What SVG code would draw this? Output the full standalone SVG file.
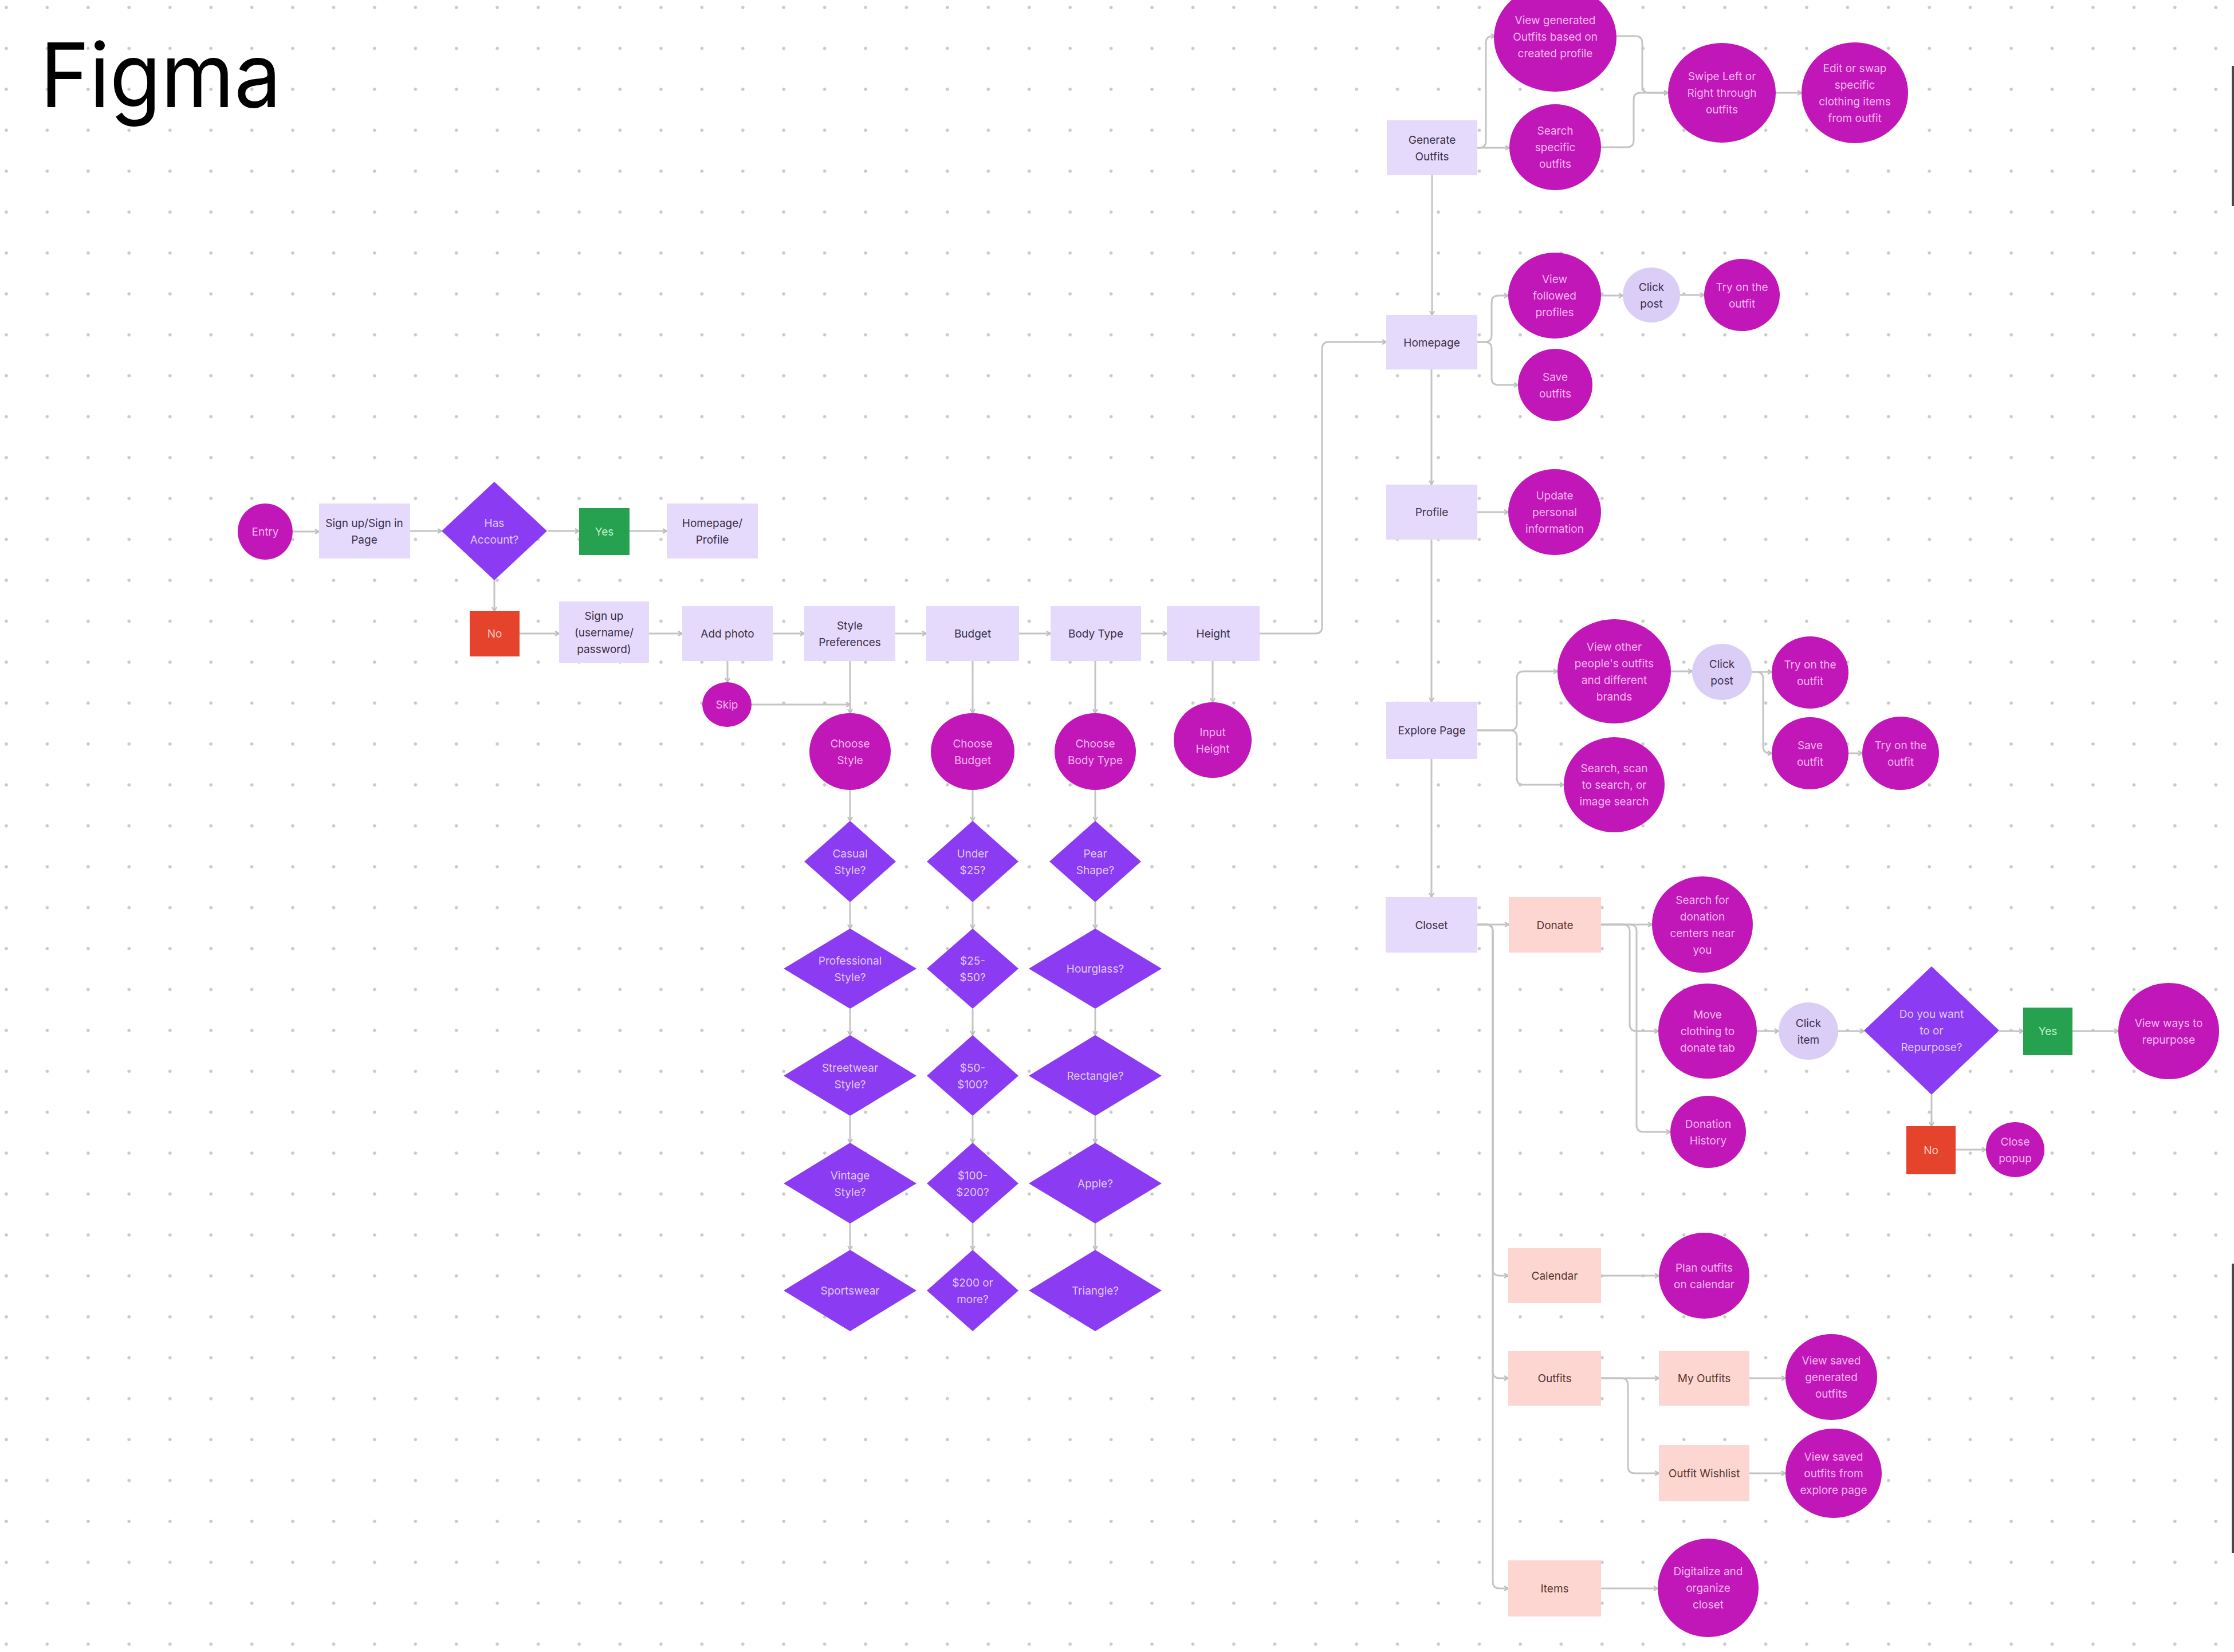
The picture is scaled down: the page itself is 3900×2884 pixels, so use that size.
<svg xmlns="http://www.w3.org/2000/svg" width="3900" height="2884" viewBox="0 0 3900 2884">
<defs>
<pattern id="dots" patternUnits="userSpaceOnUse" x="-24.7" y="-22.7" width="71.43" height="71.43">
<circle cx="35.7" cy="35.7" r="2.8" fill="#c9c9c9"/>
</pattern>
<marker id="arr" markerUnits="userSpaceOnUse" markerWidth="14" markerHeight="14" refX="10" refY="6" orient="auto">
<path d="M3,2 L10,6 L3,10" fill="none" stroke="#bdbdbd" stroke-width="2.2"/>
</marker>
<style>
.t{font-family:Inter,"Noto Sans","Liberation Sans",sans-serif;font-size:19px;text-anchor:middle}
.lav{fill:#e5dafb}.lavt{fill:#3a3046}
.pink{fill:#fdd6d1}.pinkt{fill:#553530}
.mag{fill:#c116b8}.magt{fill:#f9b9f2}
.dia{fill:#8b3cf2}.diat{fill:#dfcbff}
.grn{fill:#25a150}.grnt{fill:#bff0c9}
.red{fill:#e5432b}.redt{fill:#ffd0c5}
.clk{fill:#dacdf6}.clkt{fill:#3b2f4d}
#connectors path{fill:none;stroke:#c4c4c4;stroke-width:3;marker-end:url(#arr)}
</style>
</defs>
<rect width="3900" height="2884" fill="#ffffff"/>
<rect width="3900" height="2884" fill="url(#dots)"/>
<text x="70" y="187" font-family="Inter,'Noto Sans',sans-serif" font-size="155" textLength="421" lengthAdjust="spacingAndGlyphs" fill="#000">Figma</text>
<rect x="3896" y="115" width="4" height="245" fill="#474747"/>
<rect x="3896" y="2206" width="4" height="505" fill="#474747"/>

<g id="connectors">
<path d="M512 928 H557"/>
<path d="M716 927 H771"/>
<path d="M956 927 H1011"/>
<path d="M1099 927 H1164"/>
<path d="M863 1013 V1067"/>
<path d="M907 1106 H976"/>
<path d="M1133 1106 H1191"/>
<path d="M1349 1106 H1404"/>
<path d="M1563 1106 H1617"/>
<path d="M1779 1106 H1834"/>
<path d="M1992 1106 H2037"/>
<path d="M1270 1154 V1191"/>
<path d="M1312 1230 H1484"/>
<path d="M1484 1154 V1245"/>
<path d="M1698 1154 V1245"/>
<path d="M1912 1154 V1245"/>
<path d="M2117 1154 V1226"/>
<path d="M1484 1379 V1433"/><path d="M1484 1575 V1621"/><path d="M1484 1761 V1807"/><path d="M1484 1948 V1995"/><path d="M1484 2136 V2182"/>
<path d="M1698 1379 V1433"/><path d="M1698 1575 V1621"/><path d="M1698 1761 V1807"/><path d="M1698 1948 V1995"/><path d="M1698 2136 V2182"/>
<path d="M1912 1379 V1433"/><path d="M1912 1575 V1621"/><path d="M1912 1761 V1807"/><path d="M1912 1948 V1995"/><path d="M1912 2136 V2182"/>
<path d="M2199 1106 H2296 Q2308 1106 2308 1094 V609 Q2308 597 2320 597 H2420"/>
<path d="M2579 258 H2582 Q2594 258 2594 246 V75 Q2594 63 2606 63 H2610"/>
<path d="M2579 258 H2635"/>
<path d="M2822 63 H2855 Q2867 63 2867 75 V150 Q2867 162 2879 162 H2912"/>
<path d="M2795 257 H2840 Q2852 257 2852 245 V174 Q2852 162 2864 162 H2912"/>
<path d="M3100 162 H3145"/>
<path d="M2500 306 V550"/>
<path d="M2579 597 H2592 Q2604 597 2604 585 V528 Q2604 516 2616 516 H2633"/>
<path d="M2579 597 H2592 Q2604 597 2604 609 V660 Q2604 672 2616 672 H2650"/>
<path d="M2795 516 H2833"/>
<path d="M2933 515 H2975"/>
<path d="M2499 645 V846"/>
<path d="M2579 894 H2633"/>
<path d="M2499 942 V1225"/>
<path d="M2579 1275 H2636 Q2648 1275 2648 1263 V1184 Q2648 1172 2660 1172 H2719"/>
<path d="M2579 1275 H2636 Q2648 1275 2648 1287 V1358 Q2648 1370 2660 1370 H2730"/>
<path d="M2917 1172 H2954"/>
<path d="M3058 1173 H3093"/>
<path d="M3058 1173 H3066 Q3078 1173 3078 1185 V1303 Q3078 1315 3090 1315 H3093"/>
<path d="M3227 1315 H3251"/>
<path d="M2499 1325 V1566"/>
<path d="M2579 1614 H2634"/>
<path d="M2579 1614 H2594 Q2606 1614 2606 1626 V2215 Q2606 2227 2618 2227 H2633"/>
<path d="M2579 1614 H2594 Q2606 1614 2606 1626 V2394 Q2606 2406 2618 2406 H2633"/>
<path d="M2579 1614 H2594 Q2606 1614 2606 1626 V2761 Q2606 2773 2618 2773 H2633"/>
<path d="M2795 1614 H2884"/>
<path d="M2795 1614 H2833 Q2845 1614 2845 1626 V1788 Q2845 1800 2857 1800 H2895"/>
<path d="M2795 1614 H2845 Q2857 1614 2857 1626 V1964 Q2857 1976 2869 1976 H2916"/>
<path d="M3067 1800 H3105"/>
<path d="M3209 1800 H3254"/>
<path d="M3490 1800 H3532"/>
<path d="M3618 1800 H3698"/>
<path d="M3372 1911 V1966"/>
<path d="M3414 2007 H3467"/>
<path d="M2795 2227 H2896"/>
<path d="M2795 2406 H2896"/>
<path d="M2795 2406 H2830 Q2842 2406 2842 2418 V2560 Q2842 2572 2854 2572 H2896"/>
<path d="M3054 2406 H3117"/>
<path d="M3054 2572 H3117"/>
<path d="M2795 2773 H2894"/>
</g>

<g id="n-entry"><ellipse class="mag" cx="463" cy="928" rx="48" ry="49"/><text class="t magt" x="463" y="935">Entry</text></g>
<g id="n-signin"><rect class="lav" x="557" y="879" width="159" height="96"/><text class="t lavt" x="636" y="919.5">Sign up/Sign in<tspan x="636" dy="29">Page</tspan></text></g>
<g id="n-hasaccount"><polygon class="dia" points="863,841 955,927 863,1013 771,927"/><text class="t diat" x="863" y="919.5">Has<tspan x="863" dy="29">Account?</tspan></text></g>
<g id="n-yes1"><rect class="grn" x="1011" y="887" width="88" height="82"/><text class="t grnt" x="1055" y="935">Yes</text></g>
<g id="n-homeprofile"><rect class="lav" x="1164" y="879" width="159" height="96"/><text class="t lavt" x="1243.5" y="919.5">Homepage/<tspan x="1243.5" dy="29">Profile</tspan></text></g>
<g id="n-no1"><rect class="red" x="820" y="1067" width="87" height="79"/><text class="t redt" x="863.5" y="1113">No</text></g>
<g id="n-signup"><rect class="lav" x="976" y="1050" width="157" height="107"/><text class="t lavt" x="1054.5" y="1081.5">Sign up<tspan x="1054.5" dy="29">(username/</tspan><tspan x="1054.5" dy="29">password)</tspan></text></g>
<g id="n-addphoto"><rect class="lav" x="1191" y="1058" width="158" height="96"/><text class="t lavt" x="1270" y="1113">Add photo</text></g>
<g id="n-skip"><ellipse class="mag" cx="1269" cy="1230" rx="43" ry="39"/><text class="t magt" x="1269" y="1237">Skip</text></g>
<g id="n-style"><rect class="lav" x="1404" y="1058" width="159" height="96"/><text class="t lavt" x="1483.5" y="1098.5">Style<tspan x="1483.5" dy="29">Preferences</tspan></text></g>
<g id="n-budget"><rect class="lav" x="1617" y="1058" width="162" height="96"/><text class="t lavt" x="1698" y="1113">Budget</text></g>
<g id="n-bodytype"><rect class="lav" x="1834" y="1058" width="158" height="96"/><text class="t lavt" x="1913" y="1113">Body Type</text></g>
<g id="n-height"><rect class="lav" x="2037" y="1058" width="162" height="96"/><text class="t lavt" x="2118" y="1113">Height</text></g>
<g id="n-choosestyle"><ellipse class="mag" cx="1484" cy="1312" rx="71" ry="67"/><text class="t magt" x="1484" y="1304.5">Choose<tspan x="1484" dy="29">Style</tspan></text></g>
<g id="n-choosebudget"><ellipse class="mag" cx="1698" cy="1312" rx="73" ry="67"/><text class="t magt" x="1698" y="1304.5">Choose<tspan x="1698" dy="29">Budget</tspan></text></g>
<g id="n-choosebody"><ellipse class="mag" cx="1912" cy="1312" rx="71" ry="67"/><text class="t magt" x="1912" y="1304.5">Choose<tspan x="1912" dy="29">Body Type</tspan></text></g>
<g id="n-inputheight"><ellipse class="mag" cx="2117" cy="1292" rx="68" ry="66"/><text class="t magt" x="2117" y="1284.5">Input<tspan x="2117" dy="29">Height</tspan></text></g>

<g id="n-casual"><polygon class="dia" points="1484,1433 1564,1504 1484,1575 1404,1504"/><text class="t diat" x="1484" y="1496.5">Casual<tspan x="1484" dy="29">Style?</tspan></text></g>
<g id="n-professional"><polygon class="dia" points="1484,1621 1600,1691 1484,1761 1368,1691"/><text class="t diat" x="1484" y="1683.5">Professional<tspan x="1484" dy="29">Style?</tspan></text></g>
<g id="n-streetwear"><polygon class="dia" points="1484,1807 1600,1878 1484,1948 1368,1878"/><text class="t diat" x="1484" y="1870.5">Streetwear<tspan x="1484" dy="29">Style?</tspan></text></g>
<g id="n-vintage"><polygon class="dia" points="1484,1995 1600,2066 1484,2136 1368,2066"/><text class="t diat" x="1484" y="2058.5">Vintage<tspan x="1484" dy="29">Style?</tspan></text></g>
<g id="n-sportswear"><polygon class="dia" points="1484,2182 1600,2253 1484,2324 1368,2253"/><text class="t diat" x="1484" y="2260">Sportswear</text></g>

<g id="n-under25"><polygon class="dia" points="1698,1433 1778,1504 1698,1575 1618,1504"/><text class="t diat" x="1698" y="1496.5">Under<tspan x="1698" dy="29">$25?</tspan></text></g>
<g id="n-25to50"><polygon class="dia" points="1698,1621 1778,1691 1698,1761 1618,1691"/><text class="t diat" x="1698" y="1683.5">$25-<tspan x="1698" dy="29">$50?</tspan></text></g>
<g id="n-50to100"><polygon class="dia" points="1698,1807 1778,1878 1698,1948 1618,1878"/><text class="t diat" x="1698" y="1870.5">$50-<tspan x="1698" dy="29">$100?</tspan></text></g>
<g id="n-100to200"><polygon class="dia" points="1698,1995 1778,2066 1698,2136 1618,2066"/><text class="t diat" x="1698" y="2058.5">$100-<tspan x="1698" dy="29">$200?</tspan></text></g>
<g id="n-200more"><polygon class="dia" points="1698,2182 1778,2253 1698,2324 1618,2253"/><text class="t diat" x="1698" y="2245.5">$200 or<tspan x="1698" dy="29">more?</tspan></text></g>

<g id="n-pear"><polygon class="dia" points="1912,1433 1992,1504 1912,1575 1832,1504"/><text class="t diat" x="1912" y="1496.5">Pear<tspan x="1912" dy="29">Shape?</tspan></text></g>
<g id="n-hourglass"><polygon class="dia" points="1912,1621 2028,1691 1912,1761 1796,1691"/><text class="t diat" x="1912" y="1698">Hourglass?</text></g>
<g id="n-rectangle"><polygon class="dia" points="1912,1807 2028,1878 1912,1948 1796,1878"/><text class="t diat" x="1912" y="1885">Rectangle?</text></g>
<g id="n-apple"><polygon class="dia" points="1912,1995 2028,2066 1912,2136 1796,2066"/><text class="t diat" x="1912" y="2073">Apple?</text></g>
<g id="n-triangle"><polygon class="dia" points="1912,2182 2028,2253 1912,2324 1796,2253"/><text class="t diat" x="1912" y="2260">Triangle?</text></g>

<g id="n-genoutfits"><rect class="lav" x="2421" y="210" width="158" height="96"/><text class="t lavt" x="2500" y="250.5">Generate<tspan x="2500" dy="29">Outfits</tspan></text></g>
<g id="n-viewgenerated"><ellipse class="mag" cx="2715" cy="66" rx="107" ry="94"/><text class="t magt" x="2715" y="42">View generated<tspan x="2715" dy="29">Outfits based on</tspan><tspan x="2715" dy="29">created profile</tspan></text></g>
<g id="n-searchspecific"><ellipse class="mag" cx="2715" cy="257" rx="80" ry="75"/><text class="t magt" x="2715" y="235">Search<tspan x="2715" dy="29">specific</tspan><tspan x="2715" dy="29">outfits</tspan></text></g>
<g id="n-swipe"><ellipse class="mag" cx="3006" cy="162" rx="94" ry="87"/><text class="t magt" x="3006" y="140">Swipe Left or<tspan x="3006" dy="29">Right through</tspan><tspan x="3006" dy="29">outfits</tspan></text></g>
<g id="n-editswap"><ellipse class="mag" cx="3238" cy="162" rx="93" ry="88"/><text class="t magt" x="3238" y="125.5">Edit or swap<tspan x="3238" dy="29">specific</tspan><tspan x="3238" dy="29">clothing items</tspan><tspan x="3238" dy="29">from outfit</tspan></text></g>

<g id="n-homepage"><rect class="lav" x="2420" y="550" width="159" height="95"/><text class="t lavt" x="2499.5" y="604.5">Homepage</text></g>
<g id="n-viewfollowed"><ellipse class="mag" cx="2714" cy="516" rx="81" ry="75"/><text class="t magt" x="2714" y="494">View<tspan x="2714" dy="29">followed</tspan><tspan x="2714" dy="29">profiles</tspan></text></g>
<g id="n-saveoutfits"><ellipse class="mag" cx="2715" cy="672" rx="65" ry="63"/><text class="t magt" x="2715" y="664.5">Save<tspan x="2715" dy="29">outfits</tspan></text></g>
<g id="n-clickpost1"><ellipse class="clk" cx="2883" cy="515" rx="50" ry="48"/><text class="t clkt" x="2883" y="507.5">Click<tspan x="2883" dy="29">post</tspan></text></g>
<g id="n-tryon1"><ellipse class="mag" cx="3041" cy="515" rx="66" ry="63"/><text class="t magt" x="3041" y="507.5">Try on the<tspan x="3041" dy="29">outfit</tspan></text></g>

<g id="n-profile"><rect class="lav" x="2420" y="846" width="159" height="96"/><text class="t lavt" x="2499.5" y="901">Profile</text></g>
<g id="n-updateinfo"><ellipse class="mag" cx="2714" cy="894" rx="81" ry="75"/><text class="t magt" x="2714" y="872">Update<tspan x="2714" dy="29">personal</tspan><tspan x="2714" dy="29">information</tspan></text></g>

<g id="n-explore"><rect class="lav" x="2420" y="1225" width="159" height="100"/><text class="t lavt" x="2499.5" y="1282">Explore Page</text></g>
<g id="n-viewother"><ellipse class="mag" cx="2818" cy="1172" rx="99" ry="91"/><text class="t magt" x="2818" y="1135.5">View other<tspan x="2818" dy="29">people's outfits</tspan><tspan x="2818" dy="29">and different</tspan><tspan x="2818" dy="29">brands</tspan></text></g>
<g id="n-searchscan"><ellipse class="mag" cx="2818" cy="1370" rx="88" ry="83"/><text class="t magt" x="2818" y="1348">Search, scan<tspan x="2818" dy="29">to search, or</tspan><tspan x="2818" dy="29">image search</tspan></text></g>
<g id="n-clickpost2"><ellipse class="clk" cx="3006" cy="1173" rx="52" ry="49"/><text class="t clkt" x="3006" y="1165.5">Click<tspan x="3006" dy="29">post</tspan></text></g>
<g id="n-tryon2"><ellipse class="mag" cx="3160" cy="1174" rx="67" ry="63"/><text class="t magt" x="3160" y="1166.5">Try on the<tspan x="3160" dy="29">outfit</tspan></text></g>
<g id="n-saveoutfit"><ellipse class="mag" cx="3160" cy="1315" rx="67" ry="63"/><text class="t magt" x="3160" y="1307.5">Save<tspan x="3160" dy="29">outfit</tspan></text></g>
<g id="n-tryon3"><ellipse class="mag" cx="3318" cy="1315" rx="67" ry="64"/><text class="t magt" x="3318" y="1307.5">Try on the<tspan x="3318" dy="29">outfit</tspan></text></g>

<g id="n-closet"><rect class="lav" x="2419" y="1566" width="160" height="97"/><text class="t lavt" x="2499" y="1621.5">Closet</text></g>
<g id="n-donate"><rect class="pink" x="2634" y="1566" width="161" height="97"/><text class="t pinkt" x="2714.5" y="1621.5">Donate</text></g>
<g id="n-searchdonation"><ellipse class="mag" cx="2972" cy="1614" rx="88" ry="84"/><text class="t magt" x="2972" y="1577.5">Search for<tspan x="2972" dy="29">donation</tspan><tspan x="2972" dy="29">centers near</tspan><tspan x="2972" dy="29">you</tspan></text></g>
<g id="n-moveclothing"><ellipse class="mag" cx="2981" cy="1800" rx="86" ry="83"/><text class="t magt" x="2981" y="1778">Move<tspan x="2981" dy="29">clothing to</tspan><tspan x="2981" dy="29">donate tab</tspan></text></g>
<g id="n-clickitem"><ellipse class="clk" cx="3157" cy="1800" rx="52" ry="50"/><text class="t clkt" x="3157" y="1792.5">Click<tspan x="3157" dy="29">item</tspan></text></g>
<g id="n-repurpose"><polygon class="dia" points="3372,1687 3490,1799 3372,1911 3254,1799"/><text class="t diat" x="3372" y="1777">Do you want<tspan x="3372" dy="29">to or</tspan><tspan x="3372" dy="29">Repurpose?</tspan></text></g>
<g id="n-yes2"><rect class="grn" x="3532" y="1759" width="86" height="83"/><text class="t grnt" x="3575" y="1807">Yes</text></g>
<g id="n-viewways"><ellipse class="mag" cx="3786" cy="1800" rx="88" ry="84"/><text class="t magt" x="3786" y="1792.5">View ways to<tspan x="3786" dy="29">repurpose</tspan></text></g>
<g id="n-no2"><rect class="red" x="3328" y="1966" width="86" height="84"/><text class="t redt" x="3371" y="2015">No</text></g>
<g id="n-closepopup"><ellipse class="mag" cx="3518" cy="2007" rx="51" ry="48"/><text class="t magt" x="3518" y="1999.5">Close<tspan x="3518" dy="29">popup</tspan></text></g>
<g id="n-donationhistory"><ellipse class="mag" cx="2982" cy="1976" rx="66" ry="63"/><text class="t magt" x="2982" y="1968.5">Donation<tspan x="2982" dy="29">History</tspan></text></g>

<g id="n-calendar"><rect class="pink" x="2633" y="2179" width="162" height="96"/><text class="t pinkt" x="2714" y="2234">Calendar</text></g>
<g id="n-planoutfits"><ellipse class="mag" cx="2975" cy="2227" rx="79" ry="75"/><text class="t magt" x="2975" y="2219.5">Plan outfits<tspan x="2975" dy="29">on calendar</tspan></text></g>
<g id="n-outfits"><rect class="pink" x="2633" y="2358" width="162" height="96"/><text class="t pinkt" x="2714" y="2413">Outfits</text></g>
<g id="n-myoutfits"><rect class="pink" x="2896" y="2358" width="158" height="96"/><text class="t pinkt" x="2975" y="2413">My Outfits</text></g>
<g id="n-viewsavedgen"><ellipse class="mag" cx="3197" cy="2404" rx="80" ry="75"/><text class="t magt" x="3197" y="2382">View saved<tspan x="3197" dy="29">generated</tspan><tspan x="3197" dy="29">outfits</tspan></text></g>
<g id="n-wishlist"><rect class="pink" x="2896" y="2523" width="158" height="98"/><text class="t pinkt" x="2975" y="2579">Outfit Wishlist</text></g>
<g id="n-viewsavedexplore"><ellipse class="mag" cx="3201" cy="2572" rx="84" ry="78"/><text class="t magt" x="3201" y="2550">View saved<tspan x="3201" dy="29">outfits from</tspan><tspan x="3201" dy="29">explore page</tspan></text></g>
<g id="n-items"><rect class="pink" x="2633" y="2724" width="162" height="98"/><text class="t pinkt" x="2714" y="2780">Items</text></g>
<g id="n-digitalize"><ellipse class="mag" cx="2982" cy="2772" rx="88" ry="86"/><text class="t magt" x="2982" y="2750">Digitalize and<tspan x="2982" dy="29">organize</tspan><tspan x="2982" dy="29">closet</tspan></text></g>
</svg>
